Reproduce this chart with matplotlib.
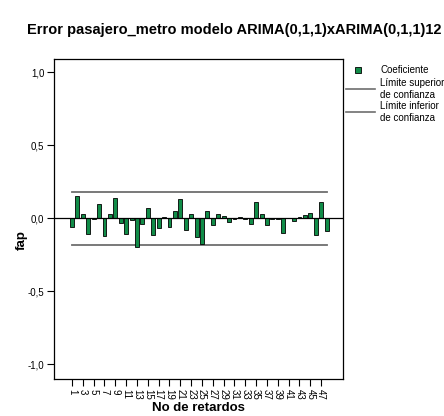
import numpy as np
import matplotlib
matplotlib.use("Agg")
from matplotlib import pyplot as plt
from matplotlib.lines import Line2D
from matplotlib.patches import Rectangle

plt.rcParams["font.family"] = ["Liberation Sans", "DejaVu Sans"]

# partial autocorrelations of the residuals, lags 1..48
lags = np.arange(1, 49)
fap = [-0.057, 0.155, 0.032, -0.110, -0.005, 0.100, -0.123, 0.032, 0.142, -0.032,
       -0.105, -0.014, -0.196, -0.037, 0.073, -0.114, -0.064, 0.011, -0.059, 0.050,
       0.130, -0.082, 0.032, -0.128, -0.178, 0.050, -0.046, 0.032, 0.018, -0.025,
       -0.004, 0.008, -0.008, -0.037, 0.114, 0.032, -0.046, -0.002, -0.005, -0.103,
       0.002, -0.018, 0.011, 0.020, 0.034, -0.114, 0.114, -0.087]
conf_upper = 0.182
conf_lower = -0.182
y_ticks = [-1.0, -0.5, 0.0, 0.5, 1.0]
y_ticklabels = ["-1,0", "-0,5", "0,0", "0,5", "1,0"]
x_ticks = list(range(1, 49, 2))

title = "Error pasajero_metro modelo ARIMA(0,1,1)xARIMA(0,1,1)12"
bar_color = "#118c48"
conf_color = "#6e6e6e"

fig = plt.figure(figsize=(4.44, 4.16), dpi=100)
ax = fig.add_axes([0.1216, 0.0889, 0.6509, 0.7693])

ax.bar(lags, fap, width=0.72, color=bar_color, edgecolor="black", linewidth=0.6, zorder=2)
ax.axhline(0, color="black", linewidth=0.9, zorder=3)
ax.plot([lags[0], lags[-1]], [conf_upper, conf_upper], color=conf_color, linewidth=1.3, zorder=1)
ax.plot([lags[0], lags[-1]], [conf_lower, conf_lower], color=conf_color, linewidth=1.3, zorder=1)

ax.set_xlim(-2.32, 51.03)
ax.set_ylim(-1.10, 1.09)

ax.set_yticks(y_ticks)
ax.set_yticklabels(y_ticklabels, fontsize=7)
ax.set_xticks(x_ticks)
ax.set_xticklabels([str(t) for t in x_ticks], rotation=-90, fontsize=7)
ax.tick_params(axis="both", direction="out", length=5, width=0.8, pad=2)

for sp in ax.spines.values():
    sp.set_linewidth(0.9)

ax.set_xlabel("No de retardos", fontsize=9.5, fontweight="bold", labelpad=2)
ax.set_ylabel("fap", fontsize=9.5, fontweight="bold")
ax.yaxis.set_label_coords(-0.09, 0.434)

fig.text(0.527, 1 - 30 / 416, title, ha="center", va="center", fontsize=10.5, fontweight="bold")

# legend drawn beside the plot
def fx(px):
    return px / 444

def fy(py):
    return 1 - py / 416

fig.patches.append(Rectangle((fx(355), fy(73)), 6 / 444, 6 / 416, transform=fig.transFigure,
                             facecolor=bar_color, edgecolor="black", linewidth=0.6))
fig.text(fx(380), fy(70), "Coeficiente", fontsize=7, va="center")
fig.lines.append(Line2D([fx(346), fx(375)], [fy(89), fy(89)], transform=fig.transFigure,
                        color=conf_color, linewidth=1.2))
fig.text(fx(380), fy(83), "Límite superior", fontsize=7, va="center")
fig.text(fx(380), fy(95), "de confianza", fontsize=7, va="center")
fig.lines.append(Line2D([fx(346), fx(375)], [fy(112), fy(112)], transform=fig.transFigure,
                        color=conf_color, linewidth=1.2))
fig.text(fx(380), fy(106), "Límite inferior", fontsize=7, va="center")
fig.text(fx(380), fy(118), "de confianza", fontsize=7, va="center")

fig.savefig("out.png", dpi=100)
